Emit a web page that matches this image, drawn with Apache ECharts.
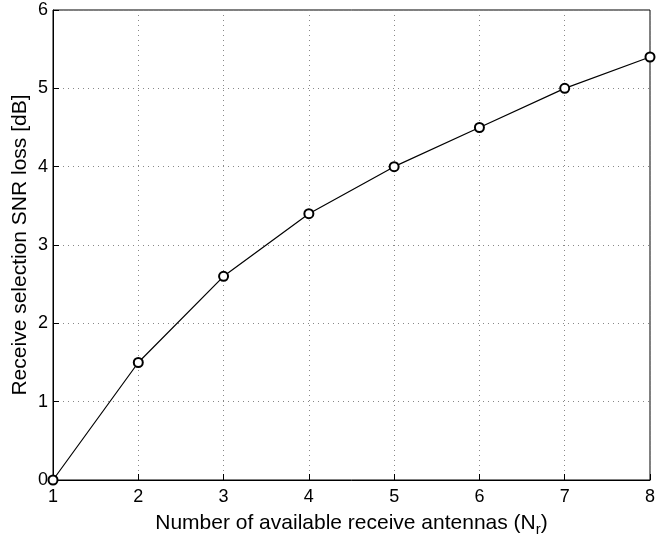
<!DOCTYPE html>
<html>
<head>
<meta charset="utf-8">
<script src="https://cdn.jsdelivr.net/npm/echarts@6/dist/echarts.min.js"></script>
<style>
html,body{margin:0;padding:0;background:#fff;}
#chart{width:657px;height:539px;}
</style>
</head>
<body>
<div id="chart"></div>
<script>
// Number of receive antennas and the SNR loss of receive selection
const antennas = [1, 2, 3, 4, 5, 6, 7, 8];
const snrLoss = [0, 1.5, 2.6, 3.4, 4.0, 4.5, 5.0, 5.4];
const yTicks = [0, 1, 2, 3, 4, 5, 6];

const chart = echarts.init(document.getElementById('chart'));
const font = 'Liberation Sans, Arial, Helvetica, sans-serif';
const gridLine = { show: true, lineStyle: { color: '#888', type: [1, 4], width: 1 } };

chart.setOption({
  animation: false,
  backgroundColor: '#fff',
  grid: { left: 53, right: 7, top: 10, bottom: 59, containLabel: false, outerBoundsMode: 'none',
          show: true, borderColor: '#000', borderWidth: 1, backgroundColor: 'transparent' },
  xAxis: {
    type: 'value', min: 1, max: 8, interval: 1,
    axisLine: { lineStyle: { color: '#000', width: 1 } },
    axisTick: { inside: true, length: 6, lineStyle: { color: '#000' } },
    splitLine: gridLine,
    axisLabel: { color: '#000', fontSize: 18, fontFamily: font, margin: 8 },
    name: '{a|Number of available receive antennas (N}{s|r}{a|)}',
    nameLocation: 'middle', nameGap: 30,
    nameTextStyle: {
      rich: {
        a: { fontSize: 21, fontFamily: font, color: '#000' },
        s: { fontSize: 15, fontFamily: font, color: '#000', verticalAlign: 'bottom', padding: [12, 0, 0, 0] }
      }
    }
  },
  yAxis: {
    type: 'value', min: 0, max: 6, interval: 1,
    axisLine: { lineStyle: { color: '#000', width: 1 } },
    axisTick: { inside: true, length: 6, lineStyle: { color: '#000' } },
    splitLine: gridLine,
    axisLabel: { color: '#000', fontSize: 18, fontFamily: font, margin: 5,
      formatter: v => yTicks.includes(v) ? String(v) : '' },
    name: 'Receive selection SNR loss [dB]',
    nameLocation: 'middle', nameGap: 22, nameMoveOverlap: false,
    nameTextStyle: { color: '#000', fontSize: 21, fontFamily: font }
  },
  series: [{
    type: 'line',
    data: antennas.map((n, i) => [n, snrLoss[i]]),
    symbol: 'emptyCircle', symbolSize: 9,
    lineStyle: { color: '#000', width: 1.2 },
    itemStyle: { color: '#000', borderColor: '#000', borderWidth: 1 },
    clip: false
  }]
});
</script>
</body>
</html>
